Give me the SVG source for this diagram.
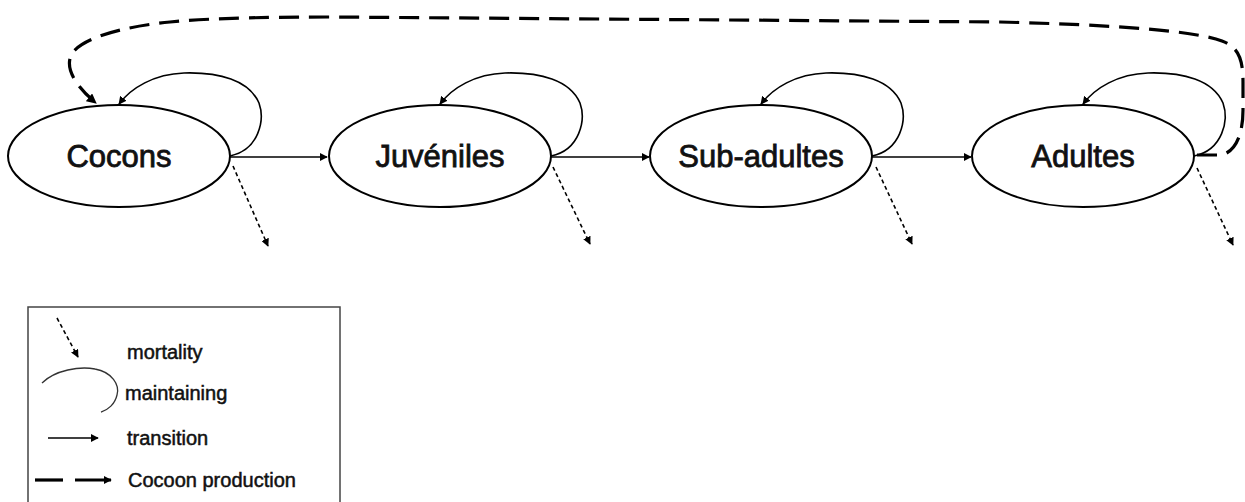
<svg xmlns="http://www.w3.org/2000/svg" width="1245" height="502" viewBox="0 0 1245 502">
<defs>
<marker id="ah" viewBox="0 0 10 10" refX="9" refY="5" markerWidth="8" markerHeight="8" markerUnits="userSpaceOnUse" orient="auto"><path d="M0,0 L10,5 L0,10 z" fill="#000"/></marker>
<marker id="ahb" viewBox="0 0 10 10" refX="9" refY="5" markerWidth="10" markerHeight="10" markerUnits="userSpaceOnUse" orient="auto"><path d="M0,0 L10,5 L0,10 z" fill="#000"/></marker>
<style>
.node ellipse{fill:#fff;stroke:#000;stroke-width:2}
.node text{font-family:"Liberation Sans",Arial,sans-serif;font-size:31px;text-anchor:middle;fill:#111;stroke:#111;stroke-width:0.8}
.tr{fill:none;stroke:#000;stroke-width:1.6;marker-end:url(#ah)}
.loop{fill:none;stroke:#000;stroke-width:1.6;marker-end:url(#ah)}
.mort{fill:none;stroke:#000;stroke-width:1.6;stroke-dasharray:4 3;marker-end:url(#ah)}
.prod{fill:none;stroke:#000;stroke-width:3.2;stroke-dasharray:20 10;marker-end:url(#ahb)}
.lt{font-family:"Liberation Sans",Arial,sans-serif;font-size:20px;fill:#111;stroke:#111;stroke-width:0.5}
</style>
</defs>
<g id="connectors">
<path class="prod" d="M1197,155 L1222,155 C1238,150 1243,130 1243,110 L1243,82 C1243,58 1238,47 1222,41 C1195,31 1120,25 1000,22 L330,17 C250,17 200,19 170,22 C120,27 85,38 73,52 C63,66 75,86 96,103"/>
<path class="tr" d="M230,157 L327,157"/>
<path class="tr" d="M551,157 L649,157"/>
<path class="tr" d="M872,157 L971,157"/>
<path class="loop" d="M230,156 C259,150 265,120 259,103 C249,80 219,72 184,73 C154,74 131,88 119,104"/>
<path class="loop" d="M551,156 C580,150 586,120 580,103 C570,80 540,72 505,73 C475,74 452,88 440,104"/>
<path class="loop" d="M872,156 C901,150 907,120 901,103 C891,80 861,72 826,73 C796,74 773,88 761,104"/>
<path class="loop" d="M1194,156 C1223,150 1229,120 1223,103 C1213,80 1183,72 1148,73 C1118,74 1095,88 1083,104"/>
<path class="mort" d="M233,166 L268,246"/>
<path class="mort" d="M553,167 L590,244"/>
<path class="mort" d="M876,167 L912,244"/>
<path class="mort" d="M1197,168 L1233,245"/>
</g>
<g id="node-cocons" class="node"><ellipse cx="119" cy="156" rx="111" ry="51"/><text x="119" y="167">Cocons</text></g>
<g id="node-juveniles" class="node"><ellipse cx="440" cy="156" rx="111" ry="51"/><text x="440" y="167">Juvéniles</text></g>
<g id="node-subadultes" class="node"><ellipse cx="761" cy="156" rx="111" ry="51"/><text x="761" y="167">Sub-adultes</text></g>
<g id="node-adultes" class="node"><ellipse cx="1083" cy="156" rx="111" ry="51"/><text x="1083" y="167">Adultes</text></g>
<g id="legend">
<rect x="28" y="307" width="312" height="220" fill="none" stroke="#444" stroke-width="1.5"/>
<path class="mort" d="M57,318 L78,357"/>
<text class="lt" x="127" y="359">mortality</text>
<path d="M42,383 C55,370 80,366 95,369 C112,372 120,385 117,395 C115,404 108,410 101,412" fill="none" stroke="#333" stroke-width="1.3"/>
<text class="lt" x="125" y="400">maintaining</text>
<path class="tr" d="M48,438 L98,438"/>
<text class="lt" x="127" y="445">transition</text>
<path d="M35,480 L63,480" stroke="#000" stroke-width="3.2"/>
<path d="M75,480 L111,480" stroke="#000" stroke-width="3.2" marker-end="url(#ah)"/>
<text class="lt" x="128" y="487">Cocoon production</text>
</g>
</svg>
